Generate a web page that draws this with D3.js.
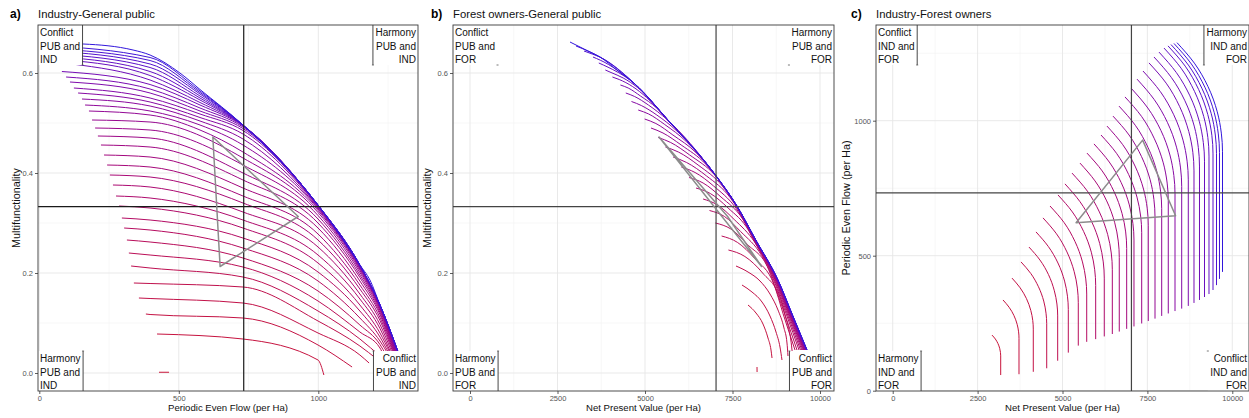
<!DOCTYPE html>
<html><head><meta charset="utf-8">
<script src="https://cdn.jsdelivr.net/npm/d3@7"></script>
<style>
body{margin:0;background:#fff;}
svg{display:block;font-family:"Liberation Sans",Arial,Helvetica,sans-serif;}
</style></head><body>
<svg id="chart" width="1249" height="418"></svg>
<script>
// ---------------- DATA ----------------
const panelLetters = ["a)", "b)", "c)"];
const panelTitles = ["Industry-General public", "Forest owners-General public", "Industry-Forest owners"];
const xTitles = ["Periodic Even Flow (per Ha)", "Net Present Value (per Ha)", "Net Present Value (per Ha)"];
const yTitles = ["Multifunctionality", "Multifunctionality", "Periodic Even Flow (per Ha)"];

const xTicksA = [0, 500, 1000];
const xMinorA = [250, 750, 1250];
const yTicksMF = [0, 0.2, 0.4, 0.6];
const yMinorMF = [0.1, 0.3, 0.5];
const xTicksNPV = [0, 2500, 5000, 7500, 10000];
const xMinorNPV = [1250, 3750, 6250, 8750];
const yTicksC = [0, 500, 1000];
const yMinorC = [250, 750, 1250];

// ideal points of the three stakeholders (triangle vertices)
const idealNPV = [5400, 7360, 8330];
const idealPEF = [622, 928, 648];
const idealMF = [0.472, 0.313, 0.213];

// corner labels: top-left, top-right, bottom-left, bottom-right
const cornerA = [["Conflict","PUB and","IND"],["Harmony","PUB and","IND"],["Harmony","PUB and","IND"],["Conflict","PUB and","IND"]];
const cornerB = [["Conflict","PUB and","FOR"],["Harmony","PUB and","FOR"],["Harmony","PUB and","FOR"],["Conflict","PUB and","FOR"]];
const cornerC = [["Conflict","IND and","FOR"],["Harmony","IND and","FOR"],["Harmony","IND and","FOR"],["Conflict","IND and","FOR"]];

// Panel a: fronts [PEF, MF], ordered low (red) -> high (blue)
const curvesA = [
 [[429,0.0015],[465,0.0015]],
 [[422,0.078],[730,0.068],[999,0.026],[1020,-0.004]],
 [[382,0.118],[397,0.117],[730,0.110],[999,0.056],[1121,0.012]],
 [[357,0.150],[397,0.149],[730,0.140],[999,0.080],[1149,0.036],[1182,0.020]],
 [[339,0.180],[397,0.179],[730,0.172],[999,0.104],[1149,0.054],[1210,0.028]],
 [[329,0.214],[397,0.210],[730,0.192],[999,0.124],[1149,0.068],[1225,0.032]],
 [[321,0.240],[397,0.236],[730,0.212],[999,0.144],[1149,0.082],[1221,0.050],[1235,0.034]],
 [[314,0.266],[397,0.262],[730,0.230],[999,0.164],[1149,0.096],[1221,0.057],[1243,0.036]],
 [[304,0.290],[397,0.286],[730,0.250],[999,0.184],[1149,0.110],[1221,0.064],[1250,0.038]],
 [[296,0.310],[397,0.306],[730,0.270],[999,0.202],[1149,0.124],[1221,0.072],[1253,0.039]],
 [[286,0.334],[397,0.330],[730,0.290],[999,0.220],[1149,0.136],[1221,0.080],[1257,0.040]],
 [[275,0.354],[397,0.350],[730,0.306],[999,0.236],[1149,0.148],[1221,0.089],[1260,0.040]],
 [[264,0.376],[397,0.372],[730,0.322],[999,0.252],[1149,0.158],[1221,0.097],[1264,0.041]],
 [[253,0.396],[397,0.392],[730,0.340],[999,0.266],[1149,0.168],[1221,0.105],[1268,0.041]],
 [[243,0.416],[397,0.412],[730,0.354],[999,0.278],[1149,0.176],[1221,0.111],[1270,0.042]],
 [[232,0.436],[397,0.432],[730,0.370],[999,0.290],[1149,0.184],[1221,0.117],[1272,0.042]],
 [[221,0.456],[397,0.452],[730,0.386],[999,0.300],[1149,0.191],[1221,0.121],[1274,0.042]],
 [[210,0.474],[397,0.470],[730,0.400],[999,0.308],[1149,0.196],[1221,0.125],[1276,0.042]],
 [[200,0.490],[397,0.486],[730,0.416],[999,0.315],[1149,0.201],[1221,0.128],[1277,0.042]],
 [[189,0.506],[397,0.502],[730,0.430],[999,0.321],[1149,0.205],[1221,0.130],[1278,0.042]],
 [[178,0.524],[397,0.516],[576,0.486],[730,0.442],[999,0.325],[1149,0.208],[1221,0.132],[1279,0.042]],
 [[164,0.536],[397,0.524],[576,0.496],[730,0.456],[999,0.328],[1149,0.210],[1221,0.133],[1280,0.042]],
 [[153,0.548],[397,0.534],[576,0.504],[730,0.468],[999,0.330],[1149,0.212],[1221,0.134],[1281,0.042]],
 [[139,0.560],[397,0.542],[576,0.511],[730,0.478],[999,0.332],[1149,0.213],[1221,0.1345],[1282,0.042]],
 [[124,0.570],[397,0.550],[576,0.518],[730,0.485],[999,0.333],[1149,0.214],[1221,0.135],[1283,0.042]],
 [[110,0.582],[397,0.560],[576,0.524],[730,0.489],[999,0.334],[1149,0.214],[1221,0.1355],[1284,0.042]],
 [[96,0.592],[397,0.568],[576,0.530],[730,0.492],[999,0.334],[1149,0.2145],[1221,0.1355],[1284,0.042]],
 [[81,0.603],[397,0.577],[576,0.536],[730,0.494],[999,0.335],[1149,0.215],[1221,0.1355],[1285,0.042]],
 [[117,0.618],[397,0.586],[576,0.541],[730,0.495],[999,0.3352],[1149,0.2152],[1221,0.1357],[1285,0.042]],
 [[96,0.626],[397,0.595],[576,0.546],[730,0.4954],[999,0.3354],[1149,0.2154],[1221,0.1358],[1285,0.042]],
 [[78,0.632],[397,0.603],[576,0.550],[730,0.4956],[999,0.3356],[1149,0.2156],[1221,0.1358],[1286,0.042]],
 [[60,0.638],[397,0.611],[576,0.554],[730,0.4958],[999,0.3357],[1149,0.2157],[1221,0.1359],[1286,0.042]],
 [[45,0.644],[397,0.618],[576,0.558],[730,0.496],[999,0.3358],[1149,0.2158],[1221,0.1359],[1286,0.042]],
 [[31,0.649],[397,0.625],[576,0.561],[730,0.496],[999,0.3359],[1149,0.2159],[1221,0.136],[1286,0.042]],
 [[17,0.655],[397,0.631],[576,0.564],[730,0.496],[999,0.336],[1149,0.216],[1221,0.136],[1286,0.042]],
 [[2,0.660],[157,0.658],[336,0.646],[397,0.636],[504,0.600],[576,0.567],[730,0.496],[999,0.336],[1149,0.216],[1185,0.186],[1221,0.136],[1257,0.086],[1286,0.042]]
];

// Panel b: fronts [NPV, MF]
const curvesB = [
 [[8200,0.012],[8202,0.002]],
 [[7943,0.136],[8171,0.120],[8371,0.098],[8514,0.070],[8600,0.046],[8629,0.030]],
 [[7771,0.176],[8057,0.162],[8343,0.142],[8571,0.114],[8743,0.082],[8857,0.052],[8914,0.026]],
 [[7600,0.214],[7943,0.202],[8286,0.184],[8571,0.158],[8800,0.126],[8971,0.090],[9057,0.060],[9086,0.034]],
 [[7383,0.246],[7854,0.233],[8360,0.200],[8874,0.147],[9000,0.116],[9200,0.046],[9214,0.036]],
 [[7189,0.274],[7646,0.261],[8134,0.229],[8680,0.178],[8957,0.116],[9286,0.046]],
 [[7011,0.300],[7454,0.288],[7929,0.257],[8534,0.207],[8644,0.186],[9002,0.116],[9343,0.046]],
 [[6843,0.325],[7271,0.313],[7731,0.283],[8331,0.235],[8675,0.186],[9045,0.116],[9400,0.046]],
 [[6660,0.348],[7074,0.336],[7549,0.307],[8140,0.261],[8698,0.186],[9076,0.116],[9443,0.046]],
 [[6457,0.370],[6866,0.359],[7374,0.330],[7969,0.284],[8105,0.266],[8720,0.186],[9104,0.116],[9480,0.046]],
 [[6260,0.391],[6660,0.380],[7171,0.352],[7800,0.307],[8115,0.266],[8734,0.186],[9125,0.116],[9509,0.046]],
 [[6037,0.412],[6431,0.401],[6960,0.374],[7595,0.330],[8126,0.266],[8747,0.186],[9142,0.116],[9532,0.046]],
 [[5803,0.432],[6189,0.421],[6760,0.394],[7431,0.351],[7600,0.334],[8132,0.266],[8756,0.186],[9154,0.116],[9549,0.046]],
 [[5583,0.452],[5954,0.442],[6517,0.416],[7209,0.374],[7606,0.334],[8139,0.266],[8764,0.186],[9165,0.116],[9563,0.046]],
 [[5377,0.471],[5734,0.461],[6277,0.436],[6991,0.396],[7609,0.334],[8143,0.266],[8770,0.186],[9174,0.116],[9575,0.046]],
 [[5171,0.490],[5514,0.480],[6034,0.456],[6731,0.418],[6954,0.400],[7612,0.334],[8146,0.266],[8774,0.186],[9180,0.116],[9583,0.046]],
 [[4989,0.508],[5311,0.499],[5797,0.476],[6454,0.441],[6957,0.400],[7615,0.334],[8150,0.266],[8779,0.186],[9186,0.116],[9592,0.046]],
 [[4806,0.526],[5106,0.518],[5563,0.497],[6180,0.463],[6960,0.400],[7618,0.334],[8153,0.266],[8783,0.186],[9191,0.116],[9598,0.046]],
 [[4614,0.543],[4894,0.535],[5337,0.516],[5911,0.484],[6961,0.400],[7619,0.334],[8154,0.266],[8785,0.186],[9194,0.116],[9603,0.046]],
 [[4451,0.560],[4703,0.553],[5097,0.536],[5629,0.507],[6962,0.400],[7620,0.334],[8156,0.266],[8788,0.186],[9198,0.116],[9609,0.046]],
 [[4297,0.576],[4520,0.570],[4871,0.554],[5331,0.530],[5648,0.506],[6962,0.400],[7620,0.334],[8156,0.266],[8789,0.186],[9200,0.116],[9612,0.046]],
 [[4069,0.592],[4263,0.587],[4643,0.573],[5046,0.551],[5648,0.506],[6962,0.400],[7620,0.334],[8156,0.266],[8789,0.186],[9202,0.116],[9615,0.046]],
 [[3866,0.606],[4029,0.601],[4377,0.590],[4786,0.571],[5650,0.506],[6964,0.400],[7622,0.334],[8159,0.266],[8792,0.186],[9205,0.116],[9618,0.046]],
 [[3680,0.620],[3809,0.616],[4077,0.607],[4426,0.593],[4708,0.578],[5651,0.506],[6965,0.400],[7623,0.334],[8160,0.266],[8793,0.186],[9206,0.116],[9620,0.046]],
 [[3514,0.632],[3614,0.629],[3829,0.622],[4094,0.611],[4710,0.578],[5653,0.506],[6967,0.400],[7625,0.334],[8162,0.266],[8795,0.186],[9209,0.116],[9623,0.046]],
 [[3257,0.644],[3491,0.638],[3706,0.632],[4711,0.578],[5654,0.506],[6968,0.400],[7626,0.334],[8163,0.266],[8797,0.186],[9211,0.116],[9626,0.046]],
 [[3029,0.654],[3369,0.644],[3712,0.632],[4713,0.578],[5656,0.506],[6970,0.400],[7628,0.334],[8165,0.266],[8799,0.186],[9213,0.116],[9628,0.046]],
 [[2857,0.662],[3371,0.644],[3714,0.632],[4194,0.606],[4714,0.578],[5657,0.506],[6971,0.400],[7629,0.334],[8166,0.266],[8800,0.186],[9214,0.116],[9629,0.046]]
];

// Panel c: fronts [NPV, PEF], each listed from its top end downwards
const curvesC = [
 [[2924,206],[3022,191.5],[3098,175],[3150,157],[3173,142],[3180,129],[3180,58]],
 [[3248,336],[3428,309],[3568,279],[3664,246],[3707,218],[3719,194],[3719,61]],
 [[3513,417],[3753,381],[3939,341],[4067,297],[4124,260],[4140,228],[4140,70]],
 [[3778,477],[4067,434],[4292,385],[4447,332],[4515,287],[4535,248],[4535,83]],
 [[4013,532],[4336,484],[4587,430],[4760,370],[4836,321],[4858,277],[4858,111]],
 [[4220,588],[4583,534],[4866,473],[5061,406],[5146,350],[5171,301],[5171,141]],
 [[4426,640],[4823,581],[5131,514],[5344,441],[5438,380],[5465,326],[5465,167]],
 [[4632,684],[5045,623],[5366,553],[5588,477],[5685,414],[5713,358],[5713,181]],
 [[4867,725],[5291,662],[5621,590],[5848,513],[5948,448],[5977,390],[5977,191]],
 [[5073,766],[5515,700],[5859,626],[6096,545],[6200,477],[6230,417],[6230,201]],
 [[5280,806],[5733,739],[6086,662],[6329,579],[6436,510],[6467,448],[6467,210]],
 [[5515,843],[5957,777],[6301,703],[6538,622],[6642,554],[6672,494],[6672,219]],
 [[5721,880],[6168,814],[6515,738],[6754,656],[6860,588],[6890,527],[6890,229]],
 [[5927,914],[6377,847],[6727,771],[6968,688],[7074,619],[7105,558],[7105,238]],
 [[6134,947],[6592,879],[6947,801],[7193,717],[7301,647],[7332,585],[7332,249]],
 [[6310,980],[6775,911],[7136,832],[7385,747],[7494,676],[7526,613],[7526,258]],
 [[6487,1017],[6960,947],[7327,867],[7581,781],[7692,708],[7724,644],[7724,267]],
 [[6664,1054],[7144,983],[7518,901],[7775,813],[7888,739],[7921,674],[7921,277]],
 [[6840,1088],[7327,1016],[7706,933],[7967,844],[8082,769],[8115,703],[8115,286]],
 [[7017,1121],[7512,1047],[7897,964],[8163,873],[8279,797],[8313,730],[8313,295]],
 [[7194,1154],[7697,1079],[8088,994],[8357,902],[8476,825],[8510,757],[8510,304]],
 [[7370,1184],[7880,1108],[8276,1022],[8549,928],[8669,850],[8704,781],[8704,314]],
 [[7547,1214],[8053,1139],[8447,1053],[8718,960],[8838,883],[8872,814],[8872,325]],
 [[7694,1236],[8206,1160],[8604,1074],[8879,980],[8999,901],[9034,832],[9034,336]],
 [[7842,1254],[8354,1178],[8752,1092],[9027,998],[9147,919],[9182,850],[9182,347]],
 [[7989,1269],[8495,1194],[8889,1108],[9160,1015],[9280,938],[9314,869],[9314,358]],
 [[8107,1277],[8613,1202],[9007,1116],[9278,1023],[9398,946],[9432,877],[9432,373]],
 [[8195,1282],[8707,1206],[9105,1120],[9380,1026],[9500,947],[9535,878],[9535,391]],
 [[8283,1286],[8795,1210],[9193,1124],[9468,1030],[9588,951],[9623,882],[9623,414]],
 [[8372,1289],[8884,1213],[9282,1127],[9557,1033],[9677,954],[9712,885],[9712,440]]
];

// ---------------- DRAWING ----------------
const FONT = '"Liberation Sans", Arial, Helvetica, sans-serif';
const svg = d3.select("#chart");
svg.append("rect").attr("width", 1249).attr("height", 418).attr("fill", "#fff");

const lowCol = "#c8143a", highCol = "#3216dc";
const meanNPV = d3.mean(idealNPV), meanPEF = d3.mean(idealPEF), meanMF = d3.mean(idealMF);

const panels = [
  {letterX: 10, left: 38, right: 418, xDom: [-4.66, 1357.3], yDom: [-0.036, 0.696],
   xt: xTicksA, xm: xMinorA, yt: yTicksMF, ym: yMinorMF, xf: d3.format("d"), yf: d3.format(".1f"),
   curves: curvesA, curve: d3.curveMonotoneX, tri: [idealPEF, idealMF], vline: meanPEF, hline: meanMF,
   corners: cornerA, edges: [1,1,1,1], refCol: "#1a1a1a", yTitleX: 20},
  {letterX: 431, left: 453, right: 834, xDom: [-486, 10400], yDom: [-0.036, 0.696],
   xt: xTicksNPV, xm: xMinorNPV, yt: yTicksMF, ym: yMinorMF, xf: d3.format("d"), yf: d3.format(".1f"),
   curves: curvesB, curve: d3.curveMonotoneX, tri: [idealNPV, idealMF], vline: meanNPV, hline: meanMF,
   corners: cornerB, edges: [0,0,1,1], refCol: "#444", yTitleX: 431},
  {letterX: 851, left: 876, right: 1249, xDom: [-492, 10492], yDom: [-1.1, 1354.4],
   xt: xTicksNPV, xm: xMinorNPV, yt: yTicksC, ym: yMinorC, xf: d3.format("d"), yf: d3.format("d"),
   curves: curvesC, curve: d3.curveMonotoneY, tri: [idealNPV, idealPEF], vline: meanNPV, hline: meanPEF,
   corners: cornerC, edges: [1,1,1,0], refCol: "#444", yTitleX: 850}
];
const plotTop = 25, plotBottom = 391;

panels.forEach((p, pi) => {
  const g = svg.append("g");
  const x = d3.scaleLinear().domain(p.xDom).range([p.left, p.right]);
  const y = d3.scaleLinear().domain(p.yDom).range([plotBottom, plotTop]);
  const clipId = "clip" + pi;
  svg.append("clipPath").attr("id", clipId).append("rect")
    .attr("x", p.left).attr("y", plotTop).attr("width", p.right - p.left).attr("height", plotBottom - plotTop);

  // grid
  const grid = g.append("g");
  p.xm.forEach(v => grid.append("line").attr("x1", x(v)).attr("x2", x(v)).attr("y1", plotTop).attr("y2", plotBottom)
    .attr("stroke", "#f2f2f2").attr("stroke-width", 0.6));
  p.ym.forEach(v => grid.append("line").attr("y1", y(v)).attr("y2", y(v)).attr("x1", p.left).attr("x2", p.right)
    .attr("stroke", "#f2f2f2").attr("stroke-width", 0.6));
  p.xt.forEach(v => grid.append("line").attr("x1", x(v)).attr("x2", x(v)).attr("y1", plotTop).attr("y2", plotBottom)
    .attr("stroke", "#e6e6e6").attr("stroke-width", 0.9));
  p.yt.forEach(v => grid.append("line").attr("y1", y(v)).attr("y2", y(v)).attr("x1", p.left).attr("x2", p.right)
    .attr("stroke", "#e6e6e6").attr("stroke-width", 0.9));

  // curves
  const cg = g.append("g").attr("clip-path", `url(#${clipId})`);
  const n = p.curves.length;
  const col = d3.scaleLinear().domain([0, n - 1]).range([lowCol, highCol]).interpolate(d3.interpolateLab);
  p.curves.forEach((pts, i) => {
    const line = d3.line().x(d => x(d[0])).y(d => y(d[1]))
      .curve(pts.length > 2 ? p.curve : d3.curveLinear);
    cg.append("path").attr("d", line(pts)).attr("fill", "none")
      .attr("stroke", col(i)).attr("stroke-width", 1);
  });

  // reference lines (centroid of ideal points)
  cg.append("line").attr("x1", x(p.vline)).attr("x2", x(p.vline)).attr("y1", plotTop).attr("y2", plotBottom)
    .attr("stroke", p.refCol).attr("stroke-width", 1.2);
  cg.append("line").attr("y1", y(p.hline)).attr("y2", y(p.hline)).attr("x1", p.left).attr("x2", p.right)
    .attr("stroke", p.refCol).attr("stroke-width", 1.2);

  // triangle
  const triPts = p.tri[0].map((v, i) => [v, p.tri[1][i]]);
  cg.append("path").attr("d", d3.line().x(d => x(d[0])).y(d => y(d[1]))(triPts) + "Z")
    .attr("fill", "none").attr("stroke", "#8c8c8c").attr("stroke-width", 1.5).attr("stroke-linejoin", "round");

  // corner labels
  const pos = ["tl", "tr", "bl", "br"];
  p.corners.forEach((lines, i) => {
    const isLeft = pos[i][1] === "l", isTop = pos[i][0] === "t";
    const bg = g.append("g");
    const rect = bg.append("rect").attr("fill", "#fff");
    const tg = bg.append("g");
    const texts = lines.map((t, j) => tg.append("text").text(t).attr("font-size", 10)
      .attr("font-family", FONT).attr("fill", "#111"));
    const w = d3.max(texts, t => t.node().getComputedTextLength()) + 4.5;
    const h = 40;
    const bx = isLeft ? p.left : p.right - w;
    const by = isTop ? plotTop : plotBottom - h;
    rect.attr("x", bx).attr("y", by).attr("width", w).attr("height", h);
    texts.forEach((t, j) => {
      t.attr("y", by + 11 + j * 13.5);
      if (isLeft) t.attr("x", bx + 2).attr("text-anchor", "start");
      else t.attr("x", bx + w - 2).attr("text-anchor", "end");
    });
    const ex = isLeft ? bx + w : bx;
    if (p.edges[i]) {
      bg.append("line").attr("x1", ex).attr("x2", ex).attr("y1", by).attr("y2", by + h)
        .attr("stroke", "#333").attr("stroke-width", 0.9);
    }
    const cy = isTop ? by + h : by;
    bg.append("line").attr("x1", ex - 1).attr("x2", ex + 1).attr("y1", cy).attr("y2", cy)
      .attr("stroke", "#555").attr("stroke-width", 0.8);
  });

  // border
  g.append("rect").attr("x", p.left).attr("y", plotTop).attr("width", p.right - p.left).attr("height", plotBottom - plotTop)
    .attr("fill", "none").attr("stroke", "#3a3a3a").attr("stroke-width", 0.9);

  // axes
  const ax = g.append("g").attr("transform", `translate(0,${plotBottom})`)
    .call(d3.axisBottom(x).tickValues(p.xt).tickSize(3).tickPadding(2).tickFormat(p.xf));
  ax.select(".domain").remove();
  ax.attr("font-family", FONT).attr("font-size", 7.5);
  ax.selectAll("line").attr("stroke", "#333").attr("stroke-width", 0.8);
  ax.selectAll("text").attr("fill", "#555");

  const ay = g.append("g").attr("transform", `translate(${p.left},0)`)
    .call(d3.axisLeft(y).tickValues(p.yt).tickSize(3).tickPadding(2).tickFormat(p.yf));
  ay.select(".domain").remove();
  ay.attr("font-family", FONT).attr("font-size", 7.5);
  ay.selectAll("line").attr("stroke", "#333").attr("stroke-width", 0.8);
  ay.selectAll("text").attr("fill", "#555");

  // titles
  g.append("text").attr("x", p.letterX).attr("y", 17.5).text(panelLetters[pi])
    .attr("font-size", 12).attr("font-weight", "bold").attr("font-family", FONT).attr("fill", "#000");
  g.append("text").attr("x", p.left).attr("y", 17.5).text(panelTitles[pi])
    .attr("font-size", 11.3).attr("font-family", FONT).attr("fill", "#111");
  g.append("text").attr("x", (p.left + p.right) / 2).attr("y", 411).attr("text-anchor", "middle")
    .text(xTitles[pi]).attr("font-size", 9.6).attr("font-family", FONT).attr("fill", "#111");
  g.append("text").attr("transform", `translate(${p.yTitleX},${(plotTop + plotBottom) / 2}) rotate(-90)`)
    .attr("text-anchor", "middle").text(yTitles[pi])
    .attr("font-size", 10.8).attr("font-family", FONT).attr("fill", "#111");
});
</script></body></html>
